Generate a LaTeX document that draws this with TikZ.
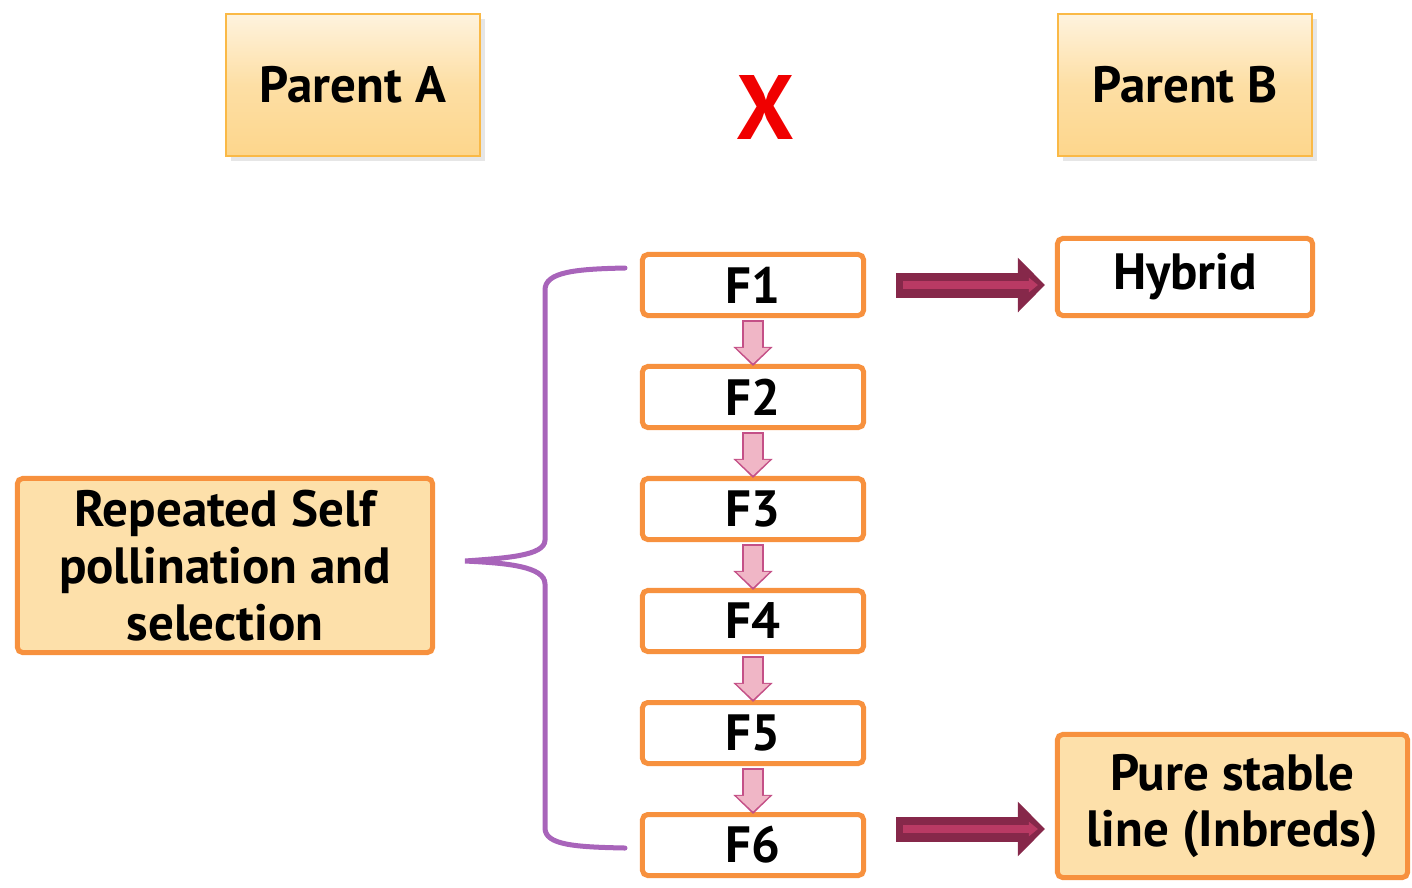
\documentclass[tikz,border=0pt]{standalone}
\usepackage{fontspec}
\setmainfont{PT Sans}
\usepackage{xcolor}
\definecolor{boxorange}{RGB}{247,145,62}
\definecolor{parentline}{RGB}{250,185,70}
\definecolor{parenttop}{RGB}{254,243,222}
\definecolor{parentbot}{RGB}{253,214,140}
\definecolor{resultfill}{RGB}{253,224,170}
\definecolor{bracepurple}{RGB}{168,100,186}
\definecolor{arrowdark}{RGB}{134,40,74}
\definecolor{arrowpink}{RGB}{185,58,100}
\definecolor{smallline}{RGB}{196,80,135}
\definecolor{smallpink}{RGB}{240,182,198}
\definecolor{crossred}{RGB}{240,0,0}
\usetikzlibrary{arrows.meta,positioning,calc,shadows}
\tikzset{
  parentbox/.style={draw=parentline, line width=0.02cm, top color=parenttop, bottom color=parentbot,
                    middle color=parentbot!70!parenttop, font=\fontsize{14.5}{17}\selectfont\bfseries,
                    minimum width=2.54cm, minimum height=1.42cm,
                    drop shadow={opacity=0.2, shadow xshift=0.05cm, shadow yshift=-0.05cm}},
  genbox/.style={draw=boxorange, line width=0.05cm, fill=white, rounded corners=1.5pt,
                 font=\fontsize{14.5}{17}\selectfont\bfseries, minimum width=2.21cm, minimum height=0.61cm},
  resultbox/.style={draw=boxorange, line width=0.05cm, fill=#1, rounded corners=1.5pt, align=center,
                    font=\fontsize{14.5}{16.2}\selectfont\bfseries, inner sep=0pt},
  bigarrow/.style={draw=arrowdark, line width=0.25cm, -{Triangle[width=0.53cm, length=0.27cm]},
                   shorten <=0.3cm, shorten >=0.1cm},
  bigarrowin/.style={draw=arrowpink, line width=0.08cm, -{Triangle[width=0.14cm, length=0.09cm]},
                     shorten <=0.37cm, shorten >=0.17cm},
  smallarrow/.style={draw=smallline, line width=0.22cm, -{Triangle[width=0.38cm, length=0.19cm]},
                     shorten <=0.02cm, shorten >=-0.02cm},
  smallarrowin/.style={draw=smallpink, line width=0.18cm, -{Triangle[width=0.32cm, length=0.155cm]},
                       shorten <=0.04cm, shorten >=0.005cm},
}
\begin{document}
\begin{tikzpicture}[x=0.01cm, y=-0.01cm]
\useasboundingbox (0,0) rectangle (1412,887);

% Parents and the cross
\node[parentbox] (pa) at (353,85) {Parent A};
\node[parentbox] (pb) at (1185,85) {Parent B};
\node[text=crossred, font=\fontsize{26}{28}\selectfont\bfseries] (cross) at (765,107) {X};

% Generations F1 to F6
\foreach \i [count=\k from 0] in {1,...,6}
  \node[genbox] (f\i) at (753,285+112*\k) {F\i};

\foreach \i/\j in {1/2,2/3,3/4,4/5,5/6} {
  \draw[smallarrow] (f\i.south) -- (f\j.north);
  \draw[smallarrowin] (f\i.south) -- (f\j.north);
}

% Outcomes
\node[resultbox=white, minimum width=2.55cm, minimum height=0.77cm] (hybrid) at (1185,277) {Hybrid};
\node[resultbox=resultfill, minimum width=3.5cm, minimum height=1.43cm] (pure) at (1232.5,806)
  {Pure stable\\line (Inbreds)};
\node[resultbox=resultfill, minimum width=4.15cm, minimum height=1.74cm] (selfing) at (225,565.5)
  {Repeated Self\\pollination and\\selection};

\draw[bigarrow] (f1.east) -- (f1.east -| hybrid.west);
\draw[bigarrowin] (f1.east) -- (f1.east -| hybrid.west);
\coordinate (f6out) at ($(f6.east)+(0,-16)$);
\draw[bigarrow] (f6out) -- (f6out -| pure.west);
\draw[bigarrowin] (f6out) -- (f6out -| pure.west);

% Brace joining the selfing box to the generations
\draw[bracepurple, line width=0.05cm, line cap=round]
  (625,268) .. controls (575,269) and (545,272) .. (545,290) -- (545,540)
  .. controls (545,556) and (505,558) .. (465,561)
  .. controls (505,563) and (545,566) .. (545,584) -- (545,828)
  .. controls (545,845) and (575,847) .. (625,848);
\end{tikzpicture}
\end{document}
